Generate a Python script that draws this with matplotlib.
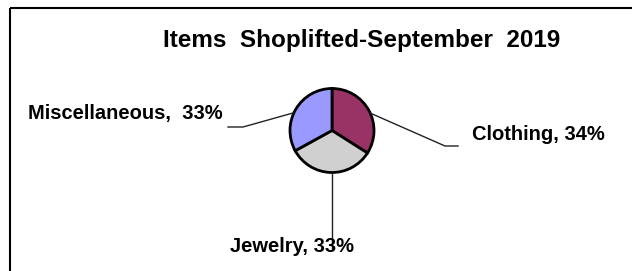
import matplotlib.pyplot as plt
from matplotlib.patches import Rectangle

# Items shoplifted, September 2019 (percent share)
categories = ['Clothing', 'Jewelry', 'Miscellaneous']
shares = [34, 33, 33]
colors = ['#993366', '#D0D0D0', '#9999FF']
label_fmt = ['{}, {}%', '{}, {}%', '{},  {}%']

W, H = 632, 271
fig = plt.figure(figsize=(W / 100, H / 100), dpi=100)
ax = fig.add_axes([0, 0, 1, 1])
plt.rcParams['font.family'] = ['Liberation Sans', 'DejaVu Sans']

# outer frame: only left and top edges are inside the image
ax.add_patch(Rectangle((10, 7.5), 700, 300, fill=False, ec='black', lw=1.5,
                       clip_on=True))

ax.text(362, 47, 'Items  Shoplifted-September  2019', ha='center', va='baseline',
        fontsize=17.5, fontweight='bold')

# y axis is flipped (pixel coords), so start at -90 and go counter-clockwise
# in data space to get a clockwise pie from 12 o'clock on screen
cx, cy, r = 332, 130.5, 42
ax.pie(shares, colors=colors, startangle=-90, counterclock=True,
       center=(cx, cy), radius=r, frame=True,
       wedgeprops=dict(edgecolor='black', linewidth=2))
ax.set_xlim(0, W)
ax.set_ylim(H, 0)
ax.set_aspect('equal')
ax.axis('off')

# leader lines: (points), label anchor, alignment
leaders = [
    ([(370, 113), (445, 146), (458, 146)], (472, 140), 'left'),
    ([(332, 173), (332, 248)], (292, 252), 'center'),
    ([(293, 113), (243, 127), (228, 127)], (28, 119), 'left'),
]
for (pts, (tx, ty), ha), cat, val, fmt in zip(leaders, categories, shares, label_fmt):
    xs, ys = zip(*pts)
    ax.plot(xs, ys, color='#222222', lw=1)
    ax.text(tx, ty, fmt.format(cat, val), ha=ha, va='baseline',
            fontsize=14.5, fontweight='bold')

fig.savefig('out.png', dpi=100)
